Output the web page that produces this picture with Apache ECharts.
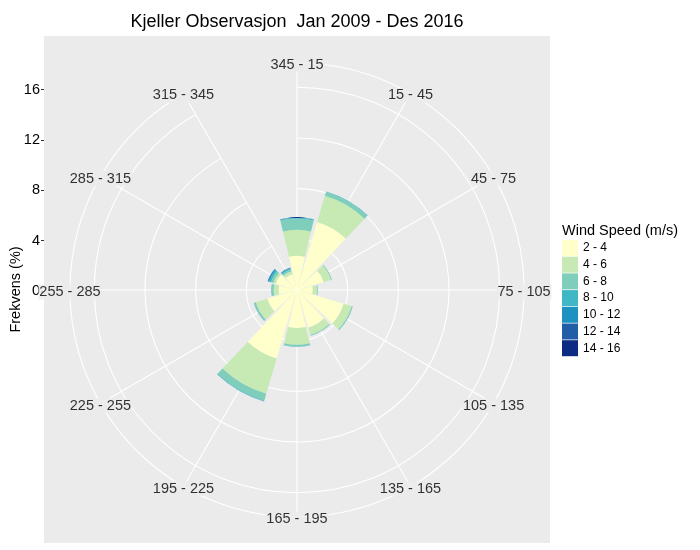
<!DOCTYPE html>
<html><head><meta charset="utf-8">
<script src="https://cdn.jsdelivr.net/npm/echarts@6/dist/echarts.min.js"></script>
<style>html,body{margin:0;padding:0;background:#fff}#c{width:700px;height:550px}</style>
</head><body><div id="c"></div>
<script>
// Direction sectors (degrees), clockwise from north
const sectors = ['345 - 15','15 - 45','45 - 75','75 - 105','105 - 135','135 - 165','165 - 195','195 - 225','225 - 255','255 - 285','285 - 315','315 - 345'];
// Wind speed classes (m/s)
const speedClasses = ['2 - 4','4 - 6','6 - 8','8 - 10','10 - 12','12 - 14','14 - 16'];
// Frequency (%) per sector for each speed class
const speed2_4   = [2.70, 5.60, 2.20, 1.25, 3.85, 3.10, 3.00, 5.65, 2.45, 1.45, 1.75, 1.30];
const speed4_6   = [2.05, 2.15, 0.60, 0.35, 0.65, 0.60, 1.33, 2.90, 0.95, 0.40, 0.20, 0.25];
const speed6_8   = [0.90, 0.32, 0.06, 0.05, 0.08, 0.06, 0.14, 0.56, 0.12, 0.15, 0.20, 0.15];
const speed8_10  = [0.08, 0.04, 0.01, 0.01, 0.02, 0.01, 0.02, 0.05, 0.03, 0.03, 0.15, 0.10];
const speed10_12 = [0.02, 0.01, 0.00, 0.00, 0.00, 0.00, 0.00, 0.01, 0.01, 0.01, 0.10, 0.05];
const speed12_14 = [0.00, 0.00, 0.00, 0.00, 0.00, 0.00, 0.00, 0.00, 0.00, 0.00, 0.02, 0.00];
const speed14_16 = [0.00, 0.00, 0.00, 0.00, 0.00, 0.00, 0.00, 0.00, 0.00, 0.00, 0.00, 0.00];
// Radial tick labels (%)
const radialTicks = [0, 4, 8, 12, 16];

const speedSeries = [speed2_4, speed4_6, speed6_8, speed8_10, speed10_12, speed12_14, speed14_16];
const colors = ['#FFFFCC','#C7E9B4','#7FCDBB','#41B6C4','#1D91C0','#225EA8','#0C2C84'];
const R_OUTER = 17.92; // radial value of the outer ring where the sector labels sit
const FONT = '"Liberation Sans", Arial, sans-serif';

const chart = echarts.init(document.getElementById('c'), null, {renderer: 'canvas'});
const option = {
  animation: false,
  backgroundColor: '#fff',
  title: [
    {text: 'Kjeller Observasjon  Jan 2009 - Des 2016', left: 297, top: 13, textAlign: 'center', padding: 0,
     textStyle: {fontFamily: FONT, fontSize: 18, fontWeight: 'normal', color: '#000'}},
    {text: 'Wind Speed (m/s)', left: 562, top: 223, padding: 0,
     textStyle: {fontFamily: FONT, fontSize: 14.5, fontWeight: 'normal', color: '#000'}}
  ],
  grid: [
    {left: 44, top: 36, width: 506, height: 507, show: true, backgroundColor: '#EBEBEB', borderWidth: 0},
    {left: 44, top: 89.5, width: 506, height: 201.5, show: false}
  ],
  xAxis: [
    {gridIndex: 0, type: 'value', show: false},
    {gridIndex: 1, type: 'value', show: false}
  ],
  yAxis: [
    {gridIndex: 0, type: 'value', min: -20, max: 20, axisLine: {show: false}, axisTick: {show: false},
     axisLabel: {show: false}, splitLine: {show: false},
     name: 'Frekvens (%)', nameLocation: 'middle', nameGap: 21,
     nameTextStyle: {fontFamily: FONT, fontSize: 14.5, color: '#000'}},
    {gridIndex: 1, type: 'value', min: radialTicks[0], max: radialTicks[radialTicks.length - 1],
     interval: radialTicks[1] - radialTicks[0],
     axisLine: {show: false}, axisTick: {show: true, length: 3, lineStyle: {color: '#333'}},
     axisLabel: {fontFamily: FONT, fontSize: 14.5, color: '#000', margin: 4}, splitLine: {show: false}}
  ],
  polar: {center: [297, 290], radius: 227},
  angleAxis: {
    type: 'category', data: sectors, boundaryGap: false, startAngle: 90, clockwise: true,
    axisLine: {show: false}, axisTick: {show: false}, axisLabel: {show: false},
    splitLine: {show: true, lineStyle: {color: '#fff', width: 1.1}}
  },
  radiusAxis: {
    type: 'value', min: 0, max: R_OUTER, interval: radialTicks[1] - radialTicks[0],
    axisLine: {show: false}, axisTick: {show: false}, axisLabel: {show: false},
    splitLine: {show: true, lineStyle: {color: '#fff', width: 1.1}}
  },
  legend: {
    orient: 'vertical', left: 562, top: 240, padding: 0,
    itemWidth: 16, itemHeight: 16, itemGap: 0.7, icon: 'rect',
    data: speedClasses,
    textStyle: {fontFamily: FONT, fontSize: 12, color: '#000'}
  },
  series: speedSeries.map((vals, i) => ({
    type: 'bar', coordinateSystem: 'polar', name: speedClasses[i], stack: 'ws',
    data: vals, barCategoryGap: '10%', itemStyle: {color: colors[i]}, z: 3
  })).concat([{
    type: 'scatter', coordinateSystem: 'polar', silent: true,
    data: sectors.map(s => [R_OUTER, s]),
    symbolSize: 1, itemStyle: {color: 'rgba(0,0,0,0)'}, z: 5,
    label: {show: true, position: 'inside', formatter: p => p.value[1],
      fontFamily: FONT, fontSize: 14.5, color: '#000',
      backgroundColor: '#EBEBEB', padding: [0, 1], offset: [0, 2]}
  }])
};
chart.setOption(option);
</script></body></html>
